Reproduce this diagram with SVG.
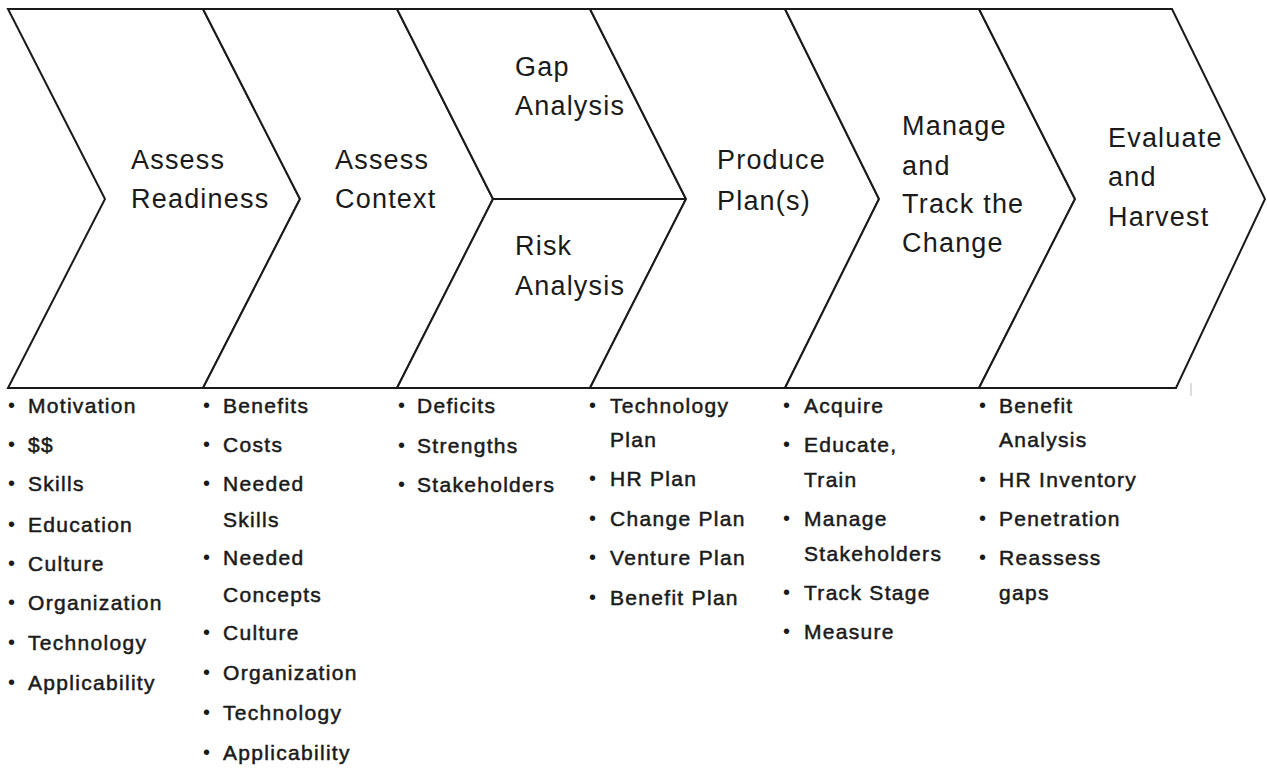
<svg xmlns="http://www.w3.org/2000/svg" width="1267" height="768" viewBox="0 0 1267 768">
<style>
.shape{fill:#fff;stroke:#1a1a1a;stroke-width:2;stroke-linejoin:miter}
.h{font-family:"Liberation Sans",Arial,sans-serif;font-size:27px;letter-spacing:1.2px;fill:#1a1a1a}
.b{font-family:"Liberation Sans",Arial,sans-serif;font-size:21px;letter-spacing:1.3px;fill:#1a1a1a;stroke:#1a1a1a;stroke-width:0.5}
.dot{font-family:"Liberation Sans",Arial,sans-serif;font-size:20px;fill:#1a1a1a}
</style>
<rect width="1267" height="768" fill="#fff"/>
<g id="assess-readiness">
<polygon class="shape" points="8,9 203,9 300,199 203,388 8,388 105,199"/>
<text class="h" x="131" y="169">Assess</text>
<text class="h" x="131" y="208">Readiness</text>
</g>
<g id="assess-context">
<polygon class="shape" points="203,9 397,9 493,199 397,388 203,388 300,199"/>
<text class="h" x="335" y="169">Assess</text>
<text class="h" x="335" y="208">Context</text>
</g>
<g id="gap-analysis">
<polygon class="shape" points="397,9 590,9 686,199 493,199"/>
<text class="h" x="515" y="76">Gap</text>
<text class="h" x="515" y="115">Analysis</text>
</g>
<g id="risk-analysis">
<polygon class="shape" points="493,199 686,199 590,388 397,388"/>
<text class="h" x="515" y="255">Risk</text>
<text class="h" x="515" y="295">Analysis</text>
</g>
<g id="produce-plans">
<polygon class="shape" points="590,9 785,9 879,199 785,388 590,388 686,199"/>
<text class="h" x="717" y="169">Produce</text>
<text class="h" x="717" y="210">Plan(s)</text>
</g>
<g id="manage-track">
<polygon class="shape" points="785,9 979,9 1075,199 979,388 785,388 879,199"/>
<text class="h" x="902" y="135">Manage</text>
<text class="h" x="902" y="175">and</text>
<text class="h" x="902" y="213">Track the</text>
<text class="h" x="902" y="252">Change</text>
</g>
<g id="evaluate-harvest">
<polygon class="shape" points="979,9 1172,9 1265,199 1176,388 979,388 1075,199"/>
<text class="h" x="1108" y="147">Evaluate</text>
<text class="h" x="1108" y="186">and</text>
<text class="h" x="1108" y="226">Harvest</text>
</g>
<g id="connectors"></g>
<line x1="1191" y1="383" x2="1191" y2="396" stroke="#bbb" stroke-width="1"/>
<g id="list-readiness">
<text class="dot" x="8" y="412">•</text><text class="b" x="28" y="413">Motivation</text>
<text class="dot" x="8" y="451">•</text><text class="b" x="28" y="452">$$</text>
<text class="dot" x="8" y="490">•</text><text class="b" x="28" y="491">Skills</text>
<text class="dot" x="8" y="531">•</text><text class="b" x="28" y="532">Education</text>
<text class="dot" x="8" y="570">•</text><text class="b" x="28" y="571">Culture</text>
<text class="dot" x="8" y="609">•</text><text class="b" x="28" y="610">Organization</text>
<text class="dot" x="8" y="649">•</text><text class="b" x="28" y="650">Technology</text>
<text class="dot" x="8" y="689">•</text><text class="b" x="28" y="690">Applicability</text>
</g>
<g id="list-context">
<text class="dot" x="203" y="412">•</text><text class="b" x="223" y="413">Benefits</text>
<text class="dot" x="203" y="451">•</text><text class="b" x="223" y="452">Costs</text>
<text class="dot" x="203" y="490">•</text><text class="b" x="223" y="491">Needed</text>
<text class="b" x="223" y="527">Skills</text>
<text class="dot" x="203" y="564">•</text><text class="b" x="223" y="565">Needed</text>
<text class="b" x="223" y="602">Concepts</text>
<text class="dot" x="203" y="639">•</text><text class="b" x="223" y="640">Culture</text>
<text class="dot" x="203" y="679">•</text><text class="b" x="223" y="680">Organization</text>
<text class="dot" x="203" y="719">•</text><text class="b" x="223" y="720">Technology</text>
<text class="dot" x="203" y="759">•</text><text class="b" x="223" y="760">Applicability</text>
</g>
<g id="list-gap-risk">
<text class="dot" x="398" y="412">•</text><text class="b" x="417" y="413">Deficits</text>
<text class="dot" x="398" y="452">•</text><text class="b" x="417" y="453">Strengths</text>
<text class="dot" x="398" y="491">•</text><text class="b" x="417" y="492">Stakeholders</text>
</g>
<g id="list-plans">
<text class="dot" x="589" y="412">•</text><text class="b" x="610" y="413">Technology</text>
<text class="b" x="610" y="447">Plan</text>
<text class="dot" x="589" y="485">•</text><text class="b" x="610" y="486">HR Plan</text>
<text class="dot" x="589" y="525">•</text><text class="b" x="610" y="526">Change Plan</text>
<text class="dot" x="589" y="564">•</text><text class="b" x="610" y="565">Venture Plan</text>
<text class="dot" x="589" y="604">•</text><text class="b" x="610" y="605">Benefit Plan</text>
</g>
<g id="list-manage">
<text class="dot" x="783" y="412">•</text><text class="b" x="804" y="413">Acquire</text>
<text class="dot" x="783" y="451">•</text><text class="b" x="804" y="452">Educate,</text>
<text class="b" x="804" y="487">Train</text>
<text class="dot" x="783" y="525">•</text><text class="b" x="804" y="526">Manage</text>
<text class="b" x="804" y="561">Stakeholders</text>
<text class="dot" x="783" y="599">•</text><text class="b" x="804" y="600">Track Stage</text>
<text class="dot" x="783" y="638">•</text><text class="b" x="804" y="639">Measure</text>
</g>
<g id="list-evaluate">
<text class="dot" x="979" y="412">•</text><text class="b" x="999" y="413">Benefit</text>
<text class="b" x="999" y="447">Analysis</text>
<text class="dot" x="979" y="486">•</text><text class="b" x="999" y="487">HR Inventory</text>
<text class="dot" x="979" y="525">•</text><text class="b" x="999" y="526">Penetration</text>
<text class="dot" x="979" y="564">•</text><text class="b" x="999" y="565">Reassess</text>
<text class="b" x="999" y="600">gaps</text>
</g>
</svg>
